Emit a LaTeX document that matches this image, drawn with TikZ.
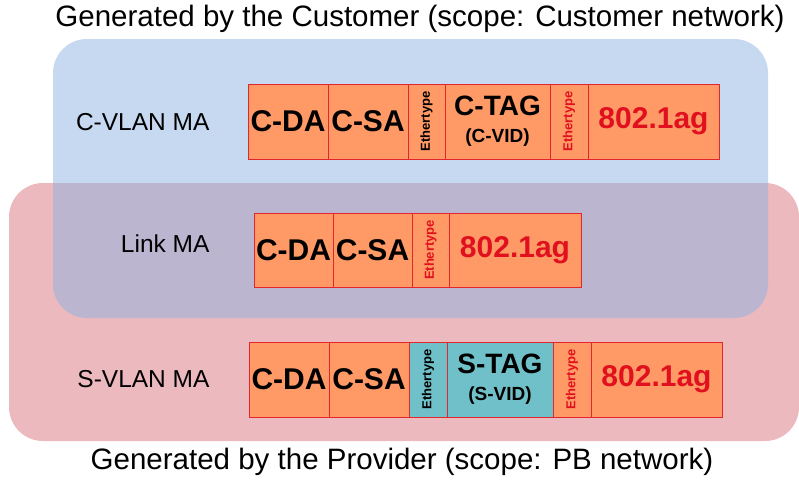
\documentclass[tikz,border=0pt]{standalone}
\usepackage{fontspec}
\usepackage{graphicx}
\setmainfont{Liberation Sans}
\usetikzlibrary{positioning}
\definecolor{fieldorange}{HTML}{FF9966}
\definecolor{fieldteal}{HTML}{6FC0C8}
\definecolor{fieldline}{HTML}{E3262E}
\definecolor{oamred}{HTML}{E0101E}
\definecolor{custblue}{RGB}{141,179,225}
\definecolor{provred}{HTML}{EBB9BE}
\newcommand{\ethlabel}{\rotatebox{90}{Ethertype}}
\begin{document}
\begin{tikzpicture}[x=1pt, y=-1pt,
  field/.style={draw=fieldline, fill=fieldorange, line width=1pt, outer sep=0pt, inner sep=0pt,
    minimum height=75pt, font=\bfseries\fontsize{30}{30}\selectfont},
  ethfield/.style={field, minimum width=37pt, font=\bfseries\fontsize{13}{13}\selectfont},
  tagfield/.style={field, minimum width=105pt, align=center, font=\bfseries\fontsize{28}{30}\selectfont},
  malabel/.style={anchor=east, font=\fontsize{24.5}{25}\selectfont},
  scopetitle/.style={font=\fontsize{29.5}{30}\selectfont}]
  \useasboundingbox (0,0) rectangle (799,479);
  % scopes
  \fill[provred, rounded corners=34pt] (9,183) rectangle (799,441);
  \fill[custblue, opacity=0.5, rounded corners=34pt] (53,39) rectangle (768,318);
  \node[scopetitle] (custtitle) at (420,19) {Generated by the Customer (scope: Customer network)};
  \node[scopetitle] (provtitle) at (402,462) {Generated by the Provider (scope: PB network)};
  % C-VLAN MA
  \node[malabel] (cvlan) at (213,122) {C-VLAN MA};
  \node[field, minimum width=80pt, anchor=north west] (cdaA) at (248,84) {C-DA};
  \node[field, minimum width=80pt, right=0pt of cdaA] (csaA) {C-SA};
  \node[ethfield, right=0pt of csaA] (ethA) {\ethlabel};
  \node[tagfield, right=0pt of ethA] (ctag) {C-TAG\\[-3pt]{\fontsize{19}{20}\selectfont(C-VID)}};
  \node[ethfield, minimum width=38pt, text=oamred, right=0pt of ctag] (ethB) {\ethlabel};
  \node[field, minimum width=131pt, text=oamred, right=0pt of ethB] (oamA) {802.1ag};
  % Link MA
  \node[malabel] (link) at (213,244) {Link MA};
  \node[field, minimum width=79pt, minimum height=74pt, anchor=north west] (cdaB) at (254,213) {C-DA};
  \node[field, minimum width=79pt, minimum height=74pt, right=0pt of cdaB] (csaB) {C-SA};
  \node[ethfield, minimum height=74pt, text=oamred, right=0pt of csaB] (ethC) {\ethlabel};
  \node[field, minimum width=132pt, minimum height=74pt, text=oamred, right=0pt of ethC] (oamB) {802.1ag};
  % S-VLAN MA
  \node[malabel] (svlan) at (213,379) {S-VLAN MA};
  \node[field, minimum width=80pt, anchor=north west] (cdaC) at (249,342) {C-DA};
  \node[field, minimum width=80pt, right=0pt of cdaC] (csaC) {C-SA};
  \node[ethfield, minimum width=38pt, fill=fieldteal, right=0pt of csaC] (ethD) {\ethlabel};
  \node[tagfield, minimum width=106pt, fill=fieldteal, right=0pt of ethD] (stag) {S-TAG\\[-3pt]{\fontsize{19}{20}\selectfont(S-VID)}};
  \node[ethfield, minimum width=38pt, text=oamred, right=0pt of stag] (ethE) {\ethlabel};
  \node[field, minimum width=131pt, text=oamred, right=0pt of ethE] (oamC) {802.1ag};
\end{tikzpicture}
\end{document}
